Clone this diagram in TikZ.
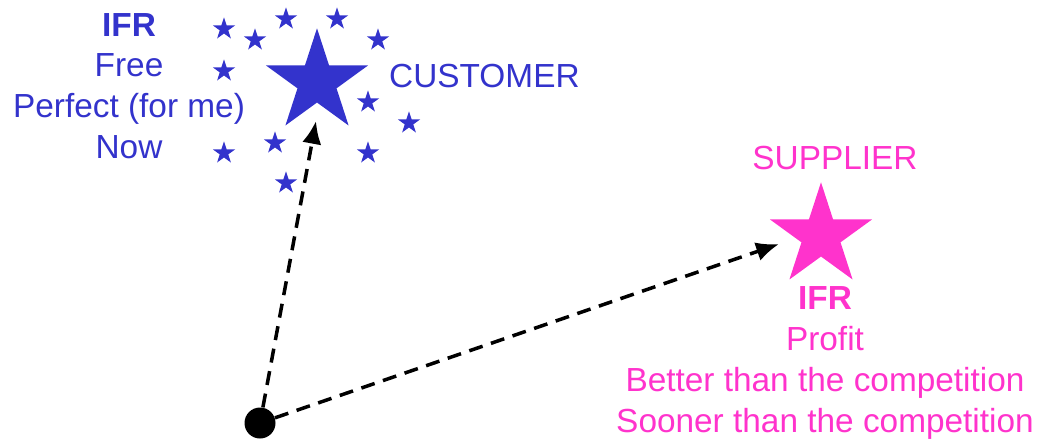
\documentclass[tikz,border=0pt]{standalone}
\usepackage{fontspec}
\setmainfont{Liberation Sans}
\usetikzlibrary{shapes.geometric,arrows.meta}
\definecolor{custblue}{HTML}{3333CC}
\definecolor{supppink}{HTML}{FF33CC}
\tikzset{
  bigstar/.style={star, star points=5, star point ratio=2.618, inner sep=0pt,
    minimum size=2.15cm, draw=none},
  smallstar/.style={star, star points=5, star point ratio=2.618, inner sep=0pt,
    minimum size=0.47cm, fill=custblue, draw=none},
  label/.style={align=center, font=\fontsize{19}{23.2}\selectfont},
  goal/.style={line width=2pt, dash pattern=on 8pt off 5pt,
    -{Latex[length=13pt,width=11pt]}}
}
\begin{document}
\begin{tikzpicture}[x=0.02cm, y=-0.02cm]
  \useasboundingbox (0,0) rectangle (1047,443);

  \node[bigstar, fill=custblue] (C) at (317,82) {};
  \node[bigstar, fill=supppink] (S) at (821,236) {};
  \node[circle, fill=black, minimum size=0.62cm, inner sep=0pt] (O) at (260,423) {};

  \foreach \x/\y in {224/29, 255/40, 286/19, 337/19, 378/40, 224/71,
                     368/102, 409/123, 275/143, 224/153, 368/153, 286/183}
    \node[smallstar] at (\x,\y) {};

  \node[label, text=custblue] (cifr) at (129,86)
    {\textbf{IFR}\\Free\\Perfect (for me)\\Now};
  \node[label, text=custblue, anchor=west] (cname) at (383,76) {CUSTOMER};
  \node[label, text=supppink] (sname) at (835,158) {SUPPLIER};
  \node[label, text=supppink] (sifr) at (825,363)
    {\textbf{IFR}\\Profit\\Better than the competition\\Sooner than the competition};

  \coordinate (ctip) at (316,121);
  \coordinate (stip) at (779,244);
  \draw[goal] (O) -- (ctip);
  \draw[goal] (O) -- (stip);
\end{tikzpicture}
\end{document}
